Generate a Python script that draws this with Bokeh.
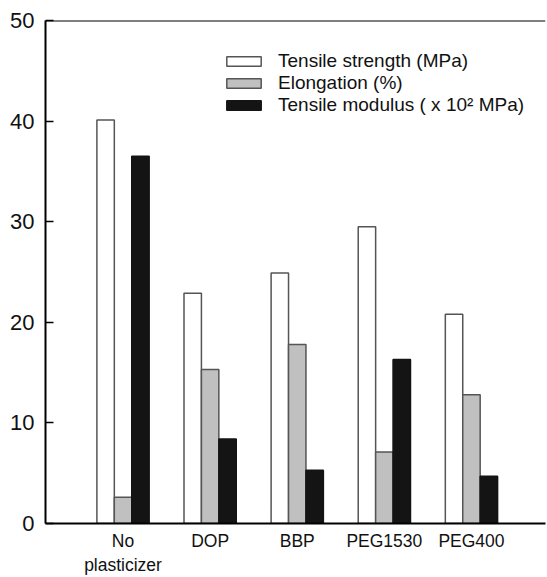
from bokeh.plotting import figure
from bokeh.models import ColumnDataSource, Range1d, FixedTicker, Span, Legend, LegendItem
from bokeh.embed import file_html
from bokeh.resources import INLINE

categories = ["No\nplasticizer", "DOP", "BBP", "PEG1530", "PEG400"]
tensile_strength = [40.1, 22.9, 24.9, 29.5, 20.8]
elongation = [2.6, 15.3, 17.8, 7.1, 12.8]
tensile_modulus = [36.5, 8.4, 5.3, 16.3, 4.7]
series_names = ["Tensile strength (MPa)", "Elongation (%)", "Tensile modulus ( x 10\u00b2 MPa)"]

xs = list(range(1, len(categories) + 1))
src = ColumnDataSource(dict(
    x0=[x - 0.2 for x in xs], x1=xs, x2=[x + 0.2 for x in xs],
    ts=tensile_strength, el=elongation, tm=tensile_modulus,
))

p = figure(width=547, height=577, output_backend="svg", toolbar_location=None,
           x_range=Range1d(0.11, 5.85), y_range=Range1d(0, 50),
           min_border_left=45, min_border_right=2, min_border_top=20, min_border_bottom=54)
p.outline_line_color = None
p.xgrid.visible = False
p.ygrid.visible = False
p.background_fill_color = "white"

r1 = p.vbar(x="x0", top="ts", width=0.2, source=src, fill_color="white",
            line_color="#555555", line_width=1.5)
r2 = p.vbar(x="x1", top="el", width=0.2, source=src, fill_color="#c0c0c0",
            line_color="#555555", line_width=1.5)
r3 = p.vbar(x="x2", top="tm", width=0.2, source=src, fill_color="#141414",
            line_color="#141414", line_width=1.5)

font = "Liberation Sans"
p.yaxis.ticker = FixedTicker(ticks=[0, 10, 20, 30, 40, 50])
p.yaxis.major_tick_in = 8
p.yaxis.major_tick_out = 0
p.yaxis.minor_tick_line_color = None
p.yaxis.axis_line_width = 2
p.yaxis.major_tick_line_width = 1.5
p.yaxis.major_label_text_font = font
p.yaxis.major_label_text_font_size = "22px"
p.yaxis.major_label_text_color = "#111111"
p.yaxis.major_label_standoff = 11

p.xaxis.ticker = FixedTicker(ticks=xs)
p.xaxis.major_label_overrides = {x: c for x, c in zip(xs, categories)}
p.xaxis.major_tick_in = 0
p.xaxis.major_tick_out = 0
p.xaxis.minor_tick_line_color = None
p.xaxis.axis_line_width = 2
p.xaxis.major_label_text_font = font
p.xaxis.major_label_text_font_size = "17.5px"
p.xaxis.major_label_text_color = "#111111"
p.xaxis.major_label_standoff = 7

p.add_layout(Span(location=50, dimension="width", line_color="black", line_width=2))

legend = Legend(items=[LegendItem(label=series_names[0], renderers=[r1]),
                       LegendItem(label=series_names[1], renderers=[r2]),
                       LegendItem(label=series_names[2], renderers=[r3])],
                location=(177, 407), orientation="vertical",
                glyph_width=43, glyph_height=12, label_height=20, spacing=0,
                label_standoff=13, padding=0, margin=0,
                border_line_color=None, background_fill_alpha=0,
                label_text_font=font, label_text_font_size="19px",
                label_text_color="#111111")
p.add_layout(legend)

open("out.html", "w").write(file_html(p, INLINE))
